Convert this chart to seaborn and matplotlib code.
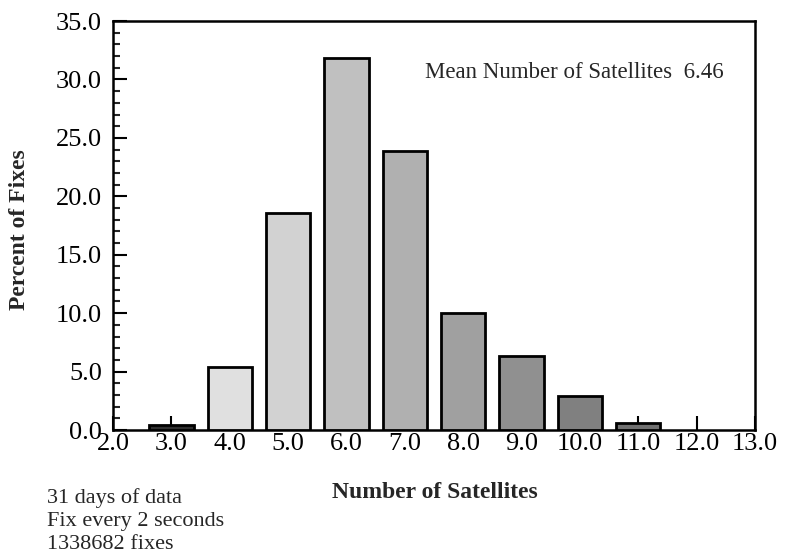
import matplotlib
matplotlib.use("Agg")
import matplotlib.pyplot as plt
import seaborn as sns
import pandas as pd
from matplotlib.ticker import MultipleLocator, FormatStrFormatter

satellites = [3.0, 4.0, 5.0, 6.0, 7.0, 8.0, 9.0, 10.0, 11.0]
percent = [0.4, 5.4, 18.6, 31.8, 23.9, 10.0, 6.3, 2.9, 0.6]
bar_colors = ["#303030", "#e0e0e0", "#d2d2d2", "#c0c0c0", "#b0b0b0",
              "#a0a0a0", "#909090", "#808080", "#707070"]
x_ticks = [2.0, 3.0, 4.0, 5.0, 6.0, 7.0, 8.0, 9.0, 10.0, 11.0, 12.0, 13.0]
y_ticks = [0.0, 5.0, 10.0, 15.0, 20.0, 25.0, 30.0, 35.0]
mean_text = "Mean Number of Satellites  6.46"
notes = ["31 days of data", "Fix every 2 seconds", "1338682 fixes"]

sns.set_theme(style="white")
plt.rcParams["font.family"] = ["Liberation Serif", "DejaVu Serif"]

df = pd.DataFrame({"sat": satellites, "pct": percent})

fig = plt.figure(figsize=(7.86, 5.56), dpi=100)
ax = fig.add_axes([0.1438, 0.2266, 0.8168, 0.7356])

sns.barplot(data=df, x="sat", y="pct", hue="sat", palette=bar_colors,
            native_scale=True, legend=False, width=0.76,
            edgecolor="black", linewidth=2.0, saturation=1, ax=ax, zorder=3)

ax.set_xlim(2.0, 13.0)
ax.set_ylim(0.0, 35.0)
ax.set_xticks(x_ticks)
ax.set_yticks(y_ticks)
ax.xaxis.set_major_formatter(FormatStrFormatter("%.1f"))
ax.yaxis.set_major_formatter(FormatStrFormatter("%.1f"))
ax.yaxis.set_minor_locator(MultipleLocator(1.0))
ax.tick_params(axis="both", which="major", direction="in", length=10, width=1.5,
               labelsize=19, colors="black")
ax.tick_params(axis="y", which="major", pad=8, left=True)
ax.tick_params(axis="x", which="major", pad=2, bottom=True)
ax.tick_params(axis="y", which="minor", direction="in", length=5, width=1.5,
               left=True)
for s in ax.spines.values():
    s.set_color("black")
    s.set_linewidth(1.8)
    s.set_visible(True)
ax.grid(False)

ax.set_xlabel("Number of Satellites", fontsize=17, fontweight="bold")
ax.xaxis.set_label_coords(0.5016, -0.1516)
ax.xaxis.label.set_va("center")
ax.set_ylabel("Percent of Fixes", fontsize=17, fontweight="bold")
ax.yaxis.set_label_coords(-0.146, 0.491)
ax.yaxis.label.set_va("center")

ax.text(0.486, 0.875, mean_text, transform=ax.transAxes, fontsize=16.5,
        ha="left", va="center")
fig.text(0.060, 0.1225, "\n".join(notes), fontsize=16, ha="left", va="top",
         linespacing=1.3)

fig.savefig("out.png", dpi=100, facecolor="white")
